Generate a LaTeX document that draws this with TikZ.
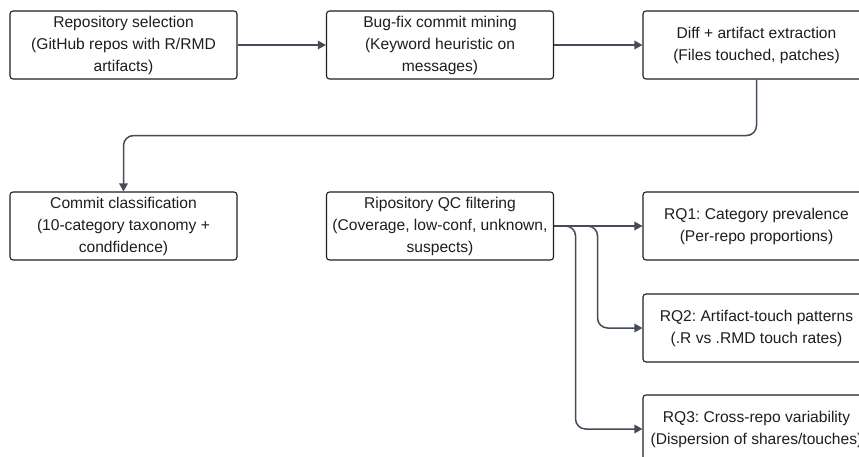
\documentclass[tikz,border=0pt]{standalone}
\usepackage{fontspec}
\setmainfont{Liberation Sans}
\usetikzlibrary{arrows.meta}
\definecolor{boxline}{HTML}{1F1F1F}
\definecolor{arrline}{HTML}{454B57}
\definecolor{txt}{HTML}{1E1E1E}
\frenchspacing
\begin{document}
\begin{tikzpicture}[x=1pt,y=-1pt,
  stepbox/.style={draw=boxline, line width=1.1pt, rounded corners=3pt, fill=white,
    minimum width=227pt, minimum height=68pt, inner sep=0pt, align=center,
    text=txt, font=\fontsize{15.6}{22}\selectfont},
  conn/.style={draw=arrline, line width=1.5pt, rounded corners=10pt,
    -{Triangle[length=8pt,width=8.5pt]}}]
\useasboundingbox (0,0) rectangle (859,457);
\clip (0,0) rectangle (859,457);
\fill[white] (0,0) rectangle (859,457);

\node[stepbox] (b1) at (123.5,45) {Repository selection\\(GitHub repos with R/RMD\\artifacts)};
\node[stepbox] (b2) at (440,45) {Bug-fix commit mining\\(Keyword heuristic on\\messages)};
\node[stepbox] (b3) at (756.5,45) {Diff + artifact extraction\\(Files touched, patches)};
\node[stepbox] (b4) at (123.5,226) {Commit classification\\(10-category taxonomy +\\condfidence)};
\node[stepbox] (b5) at (440,226) {Ripository QC filtering\\(Coverage, low-conf, unknown,\\suspects)};
\node[stepbox] (rq1) at (756.5,226) {RQ1: Category prevalence\\(Per-repo proportions)};
\node[stepbox] (rq2) at (756.5,328) {RQ2: Artifact-touch patterns\\(.R vs .RMD touch rates)};
\node[stepbox] (rq3) at (756.5,429) {RQ3: Cross-repo variability\\(Dispersion of shares/touches)};

\draw[conn] (b1.east) -- (b2.west);
\draw[conn] (b2.east) -- (b3.west);
\draw[conn] (b3.south) -- ++(0,56) -| (b4.north);
\draw[conn] (b5.east) -- (rq1.west);
\draw[conn] (b5.east) -- ++(43.5,0) |- (rq2.west);
\draw[conn] (b5.east) -- ++(21.5,0) |- (rq3.west);
\end{tikzpicture}
\end{document}
